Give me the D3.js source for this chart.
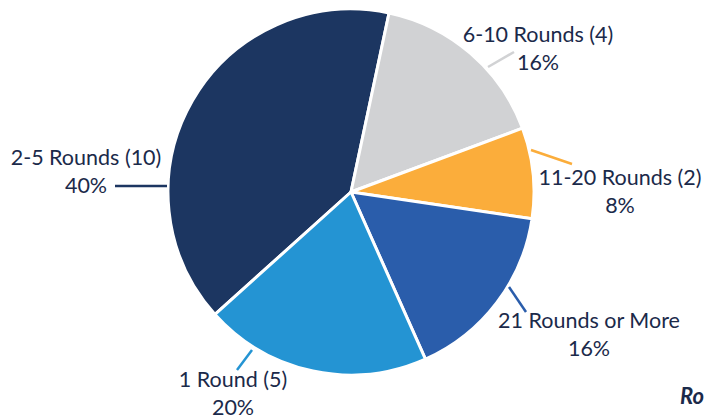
<!DOCTYPE html>
<html><head><meta charset="utf-8">
<script src="https://cdn.jsdelivr.net/npm/d3@7"></script>
<style>body{margin:0;background:#fff}text{font-family:Lato,"Open Sans",sans-serif}</style>
</head><body>
<svg id="c" width="706" height="417"></svg>
<script>
const categories = ["2-5 Rounds (10)","6-10 Rounds (4)","11-20 Rounds (2)","21 Rounds or More","1 Round (5)"];
const values = [10,4,2,4,5];
const percents = ["40%","16%","8%","16%","20%"];
const colors = ["#1C3661","#D1D2D4","#FBAD3B","#2A5DAB","#2494D3"];
// label anchor positions (centre x, first baseline y) and leader lines
const labelPos = [[86,165],[538,42],[620,185],[589,328],[233,387]];
const leaders = [[[115,186],[167,186]],[[488,67],[514,52]],[[531,150],[572,164]],[[509,287],[526,312]],[[252,350],[237,370]]];

const svg = d3.select("#c");
const cx = 351, cy = 192, R = 183;
const start = 12*Math.PI/180;
const pie = d3.pie().sort(null).value(d=>d).startAngle(start - 2*Math.PI*10/25).endAngle(start - 2*Math.PI*10/25 + 2*Math.PI);
const arcs = pie(values);
const arc = d3.arc().innerRadius(0).outerRadius(R);
const g = svg.append("g").attr("transform",`translate(${cx},${cy})`);
g.selectAll("path").data(arcs).join("path")
  .attr("d",arc).attr("fill",(d,i)=>colors[i])
  .attr("stroke","#fff").attr("stroke-width",3).attr("stroke-linejoin","round");

svg.selectAll("line.lead").data(leaders).join("line").attr("class","lead")
  .attr("x1",d=>d[0][0]).attr("y1",d=>d[0][1]).attr("x2",d=>d[1][0]).attr("y2",d=>d[1][1])
  .attr("stroke",(d,i)=>colors[i]).attr("stroke-width",2.5);

const fs = 21.5;
const lab = svg.selectAll("g.lab").data(categories).join("g").attr("class","lab");
lab.append("text").attr("x",(d,i)=>labelPos[i][0]).attr("y",(d,i)=>labelPos[i][1])
  .attr("text-anchor","middle").attr("font-size",fs).attr("fill","#1B2A4A").text(d=>d);
lab.append("text").attr("x",(d,i)=>labelPos[i][0]).attr("y",(d,i)=>labelPos[i][1]+27.5)
  .attr("text-anchor","middle").attr("font-size",fs).attr("fill","#1B2A4A").text((d,i)=>percents[i]);

svg.append("text").attr("x",680).attr("y",404).attr("font-size",22).attr("font-weight","bold")
  .attr("font-style","italic").attr("fill","#1B2A4A").text("Ro");
</script>
</body></html>
